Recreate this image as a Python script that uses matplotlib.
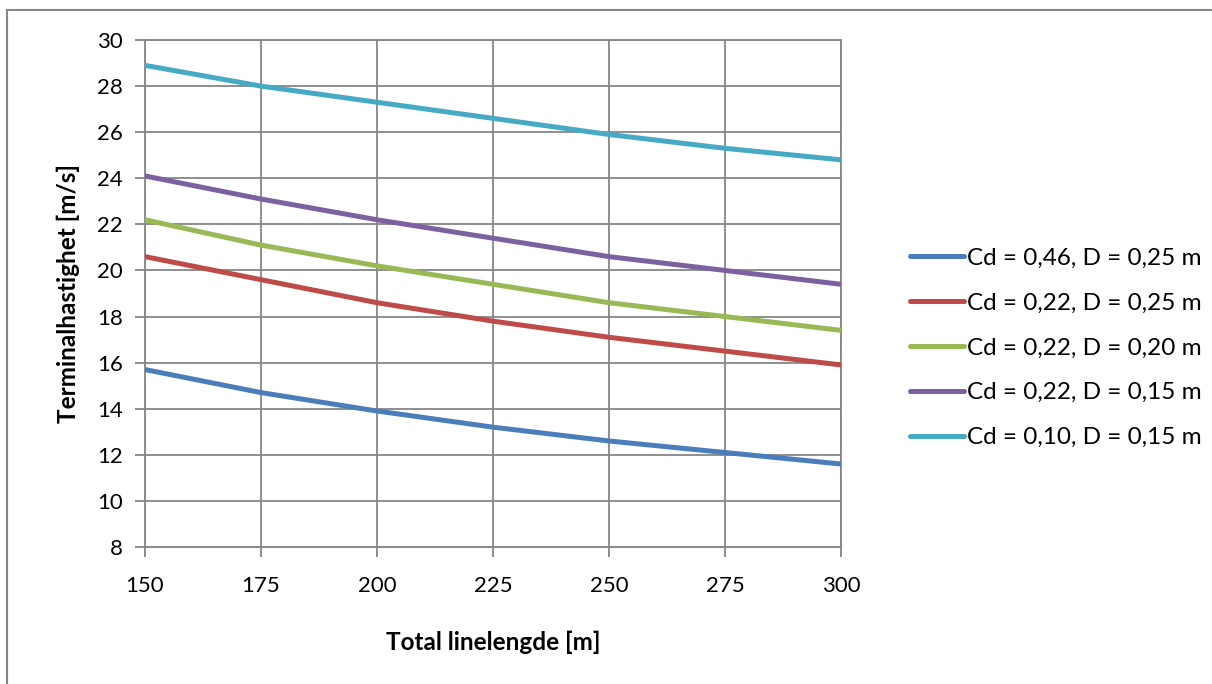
import matplotlib
matplotlib.use("Agg")
import matplotlib.pyplot as plt
from matplotlib.lines import Line2D

plt.rcParams['font.family'] = ['Lato', 'DejaVu Sans']

# Total line length [m]
line_length = [150, 175, 200, 225, 250, 275, 300]

# Terminal velocity [m/s] for each drag coefficient / diameter combination
v_cd046_d025 = [15.7, 14.7, 13.9, 13.2, 12.6, 12.1, 11.6]
v_cd022_d025 = [20.6, 19.6, 18.6, 17.8, 17.1, 16.5, 15.9]
v_cd022_d020 = [22.2, 21.1, 20.2, 19.4, 18.6, 18.0, 17.4]
v_cd022_d015 = [24.1, 23.1, 22.2, 21.4, 20.6, 20.0, 19.4]
v_cd010_d015 = [28.9, 28.0, 27.3, 26.6, 25.9, 25.3, 24.8]

series_labels = [
    "Cd = 0,46, D = 0,25 m",
    "Cd = 0,22, D = 0,25 m",
    "Cd = 0,22, D = 0,20 m",
    "Cd = 0,22, D = 0,15 m",
    "Cd = 0,10, D = 0,15 m",
]
series_values = [v_cd046_d025, v_cd022_d025, v_cd022_d020, v_cd022_d015, v_cd010_d015]
series_colors = ["#4a7ebb", "#be4b48", "#98b954", "#7d60a0", "#46aac5"]

x_ticks = [150, 175, 200, 225, 250, 275, 300]
y_ticks = list(range(8, 31, 2))

W, H = 1212, 684
fig = plt.figure(figsize=(W / 100, H / 100), dpi=100)
ax = fig.add_axes([145 / W, 1 - 547 / H, 696 / W, 507 / H])

grid_c = "#868686"
fs = 16
for vals, lab, col in zip(series_values, series_labels, series_colors):
    ax.plot(line_length, vals, color=col, lw=3.6, label=lab,
            solid_capstyle="round", solid_joinstyle="round", zorder=3)

ax.set_xlim(150, 300)
ax.set_ylim(8, 30)
ax.set_xticks(x_ticks)
ax.set_yticks(y_ticks)
ax.grid(True, color=grid_c, lw=1.3, zorder=0)
for s in ax.spines.values():
    s.set_color(grid_c)
    s.set_linewidth(1.3)
ax.tick_params(axis="both", direction="out", length=7, width=1.3,
               color=grid_c, labelsize=fs, labelcolor="black")
ax.tick_params(axis="x", pad=14)
ax.tick_params(axis="y", pad=9)

ax.set_xlabel("Total linelengde [m]", fontsize=17.5, fontweight="bold", labelpad=25)
ax.set_ylabel("Terminalhastighet [m/s]", fontsize=17.5, fontweight="bold", labelpad=12)

handles = [Line2D([0], [0], color=c, lw=3.6, solid_capstyle="round")
           for c in series_colors]
fig.legend(handles, series_labels, loc="upper left",
           bbox_to_anchor=(900 / W, 1 - 238 / H), frameon=False,
           fontsize=17.5, handlelength=2.25, handletextpad=0.1,
           labelspacing=0.98, borderaxespad=0)

# Outer chart frame
fig.add_artist(Line2D([7 / W, 7 / W], [0, 1 - 10 / H], transform=fig.transFigure,
                      color=grid_c, lw=1.5))
fig.add_artist(Line2D([7 / W, 1], [1 - 10 / H, 1 - 10 / H], transform=fig.transFigure,
                      color=grid_c, lw=1.5))

fig.savefig("out.png", dpi=100, facecolor="white")
